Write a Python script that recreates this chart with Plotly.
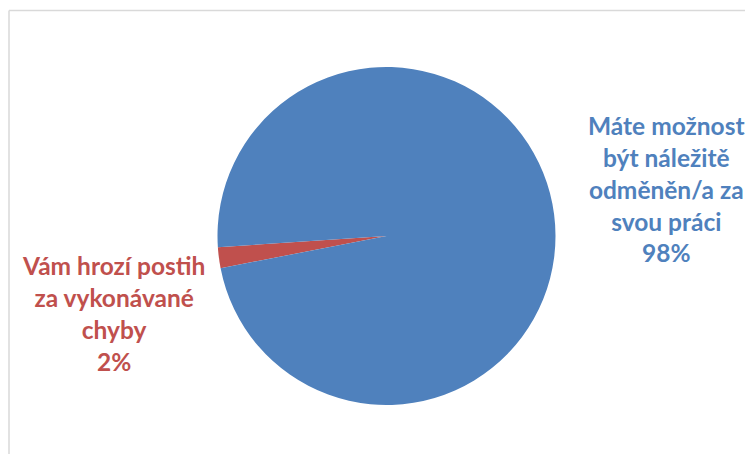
import plotly.graph_objects as go

# The page body has an 8px margin, so the figure is drawn 8px in from the
# top-left of the window; positions below are given in window pixels.
OFF = 8
W, H = 753 - OFF, 454 - OFF

categories = ["Vám hrozí postih za vykonávané chyby", "Máte možnost být náležitě odměněn/a za svou práci"]
values = [2, 98]
label_lines = [
    ["Vám hrozí postih", "za vykonávané", "chyby", "2%"],
    ["Máte možnost", "být náležitě", "odměněn/a za", "svou práci", "98%"],
]
colors = ["#C0504D", "#4F81BD"]


def px(x):
    return (x - OFF) / W


def py(y):
    return 1 - (y - OFF) / H


cx, cy, r = 386.5, 236.0, 169.0

fig = go.Figure(go.Pie(
    labels=categories,
    values=values,
    sort=False,
    direction="clockwise",
    rotation=259,
    marker=dict(colors=colors, line=dict(width=0)),
    textinfo="none",
    hoverinfo="label+percent",
    showlegend=False,
    domain=dict(x=[px(cx - r), px(cx + r)], y=[py(cy + r), py(cy - r)]),
))

font_family = "Lato, Carlito, 'Open Sans', sans-serif"
annos = [
    dict(lines=label_lines[0], x=113, y=313, color=colors[0]),
    dict(lines=label_lines[1], x=666, y=189, color=colors[1]),
]
for a in annos:
    fig.add_annotation(
        text="<br>".join("<b>" + s + "</b>" for s in a["lines"]),
        x=px(a["x"]), y=py(a["y"]), xref="paper", yref="paper",
        xanchor="center", yanchor="middle", align="center",
        showarrow=False,
        font=dict(family=font_family, size=24.5, color=a["color"]),
    )

line_col = "#D9D9D9"
fig.add_shape(type="line", xref="paper", yref="paper",
              x0=px(9), x1=1, y0=py(10.5), y1=py(10.5),
              line=dict(color=line_col, width=1.5))
fig.add_shape(type="line", xref="paper", yref="paper",
              x0=px(9), x1=px(9), y0=0, y1=py(10.5),
              line=dict(color=line_col, width=1.5))

fig.update_layout(
    width=W, height=H,
    margin=dict(l=0, r=0, t=0, b=0),
    paper_bgcolor="white",
    plot_bgcolor="white",
)

fig.write_html("out.html")
